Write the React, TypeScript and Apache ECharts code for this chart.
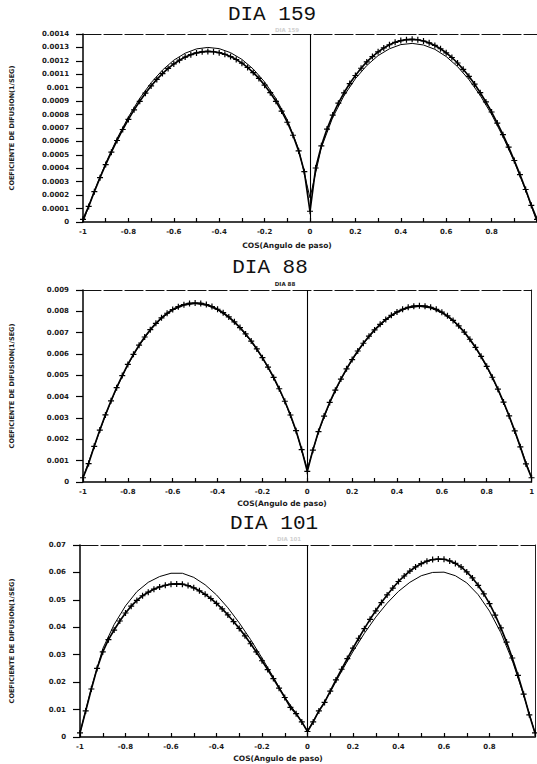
import React, { useEffect, useRef } from "react";
import * as echarts from "echarts";

// cos(pitch angle) sample points
const MU_FINE = [
  -1, -0.975, -0.95, -0.925, -0.9, -0.875, -0.85, -0.825, -0.8, -0.775,
  -0.75, -0.725, -0.7, -0.675, -0.65, -0.625, -0.6, -0.575, -0.55, -0.525,
  -0.5, -0.475, -0.45, -0.425, -0.4, -0.375, -0.35, -0.325, -0.3, -0.275,
  -0.25, -0.225, -0.2, -0.175, -0.15, -0.125, -0.1, -0.075, -0.05, -0.025,
  0,
  0.025, 0.05, 0.075, 0.1, 0.125, 0.15, 0.175, 0.2, 0.225, 0.25,
  0.275, 0.3, 0.325, 0.35, 0.375, 0.4, 0.425, 0.45, 0.475, 0.5,
  0.525, 0.55, 0.575, 0.6, 0.625, 0.65, 0.675, 0.7, 0.725, 0.75,
  0.775, 0.8, 0.825, 0.85, 0.875, 0.9, 0.925, 0.95, 0.975, 1,
];
const MU_COARSE = [
  -1, -0.95, -0.9, -0.85, -0.8, -0.75, -0.7, -0.65, -0.6, -0.55,
  -0.5, -0.45, -0.4, -0.35, -0.3, -0.25, -0.2, -0.15, -0.1, -0.05,
  0,
  0.05, 0.1, 0.15, 0.2, 0.25, 0.3, 0.35, 0.4, 0.45, 0.5,
  0.55, 0.6, 0.65, 0.7, 0.75, 0.8, 0.85, 0.9, 0.95, 1,
];

// DIA 159
const D159_MARK = [
  0.00002, 0.000116, 0.000226, 0.00033, 0.000428, 0.00052, 0.000607, 0.000689, 0.000764, 0.000835,
  0.000899, 0.000959, 0.001013, 0.001062, 0.001105, 0.001144, 0.001177, 0.001205, 0.001228, 0.001246,
  0.001259, 0.001267, 0.00127, 0.001268, 0.001261, 0.001249, 0.001232, 0.00121, 0.001183, 0.001151,
  0.001113, 0.001069, 0.001019, 0.000963, 0.000899, 0.000826, 0.000743, 0.000646, 0.000529, 0.000375,
  0.00008,
  0.000402, 0.000567, 0.000692, 0.000796, 0.000885, 0.000962, 0.001031, 0.001091, 0.001145, 0.001192,
  0.001232, 0.001267, 0.001296, 0.00132, 0.001338, 0.001351, 0.001358, 0.00136, 0.001357, 0.001348,
  0.001334, 0.001315, 0.00129, 0.00126, 0.001225, 0.001184, 0.001137, 0.001085, 0.001027, 0.000963,
  0.000894, 0.000819, 0.000737, 0.00065, 0.000557, 0.000458, 0.000353, 0.000242, 0.000124, 0.00002,
];
const D159_LINE = [
  0, 0.000231, 0.000438, 0.000622, 0.000782, 0.000921, 0.001037, 0.001131, 0.001205, 0.001257,
  0.001289, 0.0013, 0.001291, 0.001261, 0.001211, 0.001139, 0.001043, 0.00092, 0.000761, 0.000542,
  0.00018,
  0.000554, 0.000778, 0.000941, 0.001067, 0.001165, 0.001239, 0.00129, 0.001321, 0.00133, 0.001318,
  0.001286, 0.001232, 0.001157, 0.001061, 0.000942, 0.000801, 0.000636, 0.000448, 0.000236, 0,
];

// DIA 88
const D88_MARK = [
  0.0002, 0.000862, 0.001673, 0.002434, 0.003145, 0.003807, 0.004422, 0.004989, 0.00551, 0.005984,
  0.006413, 0.006798, 0.00714, 0.007439, 0.007695, 0.00791, 0.008085, 0.00822, 0.008314, 0.008372,
  0.00839, 0.008372, 0.008316, 0.008226, 0.008098, 0.007935, 0.007738, 0.007507, 0.007241, 0.006942,
  0.006607, 0.006236, 0.00583, 0.005386, 0.004901, 0.00437, 0.003786, 0.00314, 0.002404, 0.001518,
  0.0005,
  0.001494, 0.002366, 0.003091, 0.003728, 0.004303, 0.004825, 0.005303, 0.00574, 0.00614, 0.006505,
  0.006834, 0.007129, 0.007391, 0.007618, 0.007812, 0.007973, 0.008098, 0.008187, 0.008242, 0.00826,
  0.008242, 0.008186, 0.008092, 0.00796, 0.007788, 0.007576, 0.007323, 0.007029, 0.006692, 0.006314,
  0.005891, 0.005424, 0.004911, 0.004353, 0.003748, 0.003097, 0.002396, 0.001647, 0.000849, 0.0002,
];
const D88_LINE = [
  0.0002, 0.001667, 0.003134, 0.004406, 0.00549, 0.00639, 0.007114, 0.007668, 0.008057, 0.008285,
  0.00836, 0.008286, 0.008069, 0.00771, 0.007215, 0.006584, 0.005809, 0.004883, 0.003773, 0.002395,
  0.0006,
  0.002358, 0.003714, 0.004807, 0.005719, 0.006481, 0.007103, 0.007591, 0.007944, 0.008158, 0.00823,
  0.008156, 0.007931, 0.007549, 0.007004, 0.006291, 0.005405, 0.004337, 0.003085, 0.001641, 0.0002,
];

// DIA 101
const D101_MARK = [
  0.0015, 0.0095, 0.0175, 0.025, 0.031, 0.0355, 0.039, 0.0423, 0.0452, 0.0477,
  0.0498, 0.0515, 0.0528, 0.0539, 0.0547, 0.0553, 0.0557, 0.0558, 0.0557, 0.0552,
  0.0544, 0.0533, 0.052, 0.0505, 0.0487, 0.0467, 0.0445, 0.0421, 0.0396, 0.0369,
  0.034, 0.031, 0.0278, 0.0246, 0.0213, 0.0178, 0.0144, 0.0108, 0.0085, 0.0055,
  0.002,
  0.0055, 0.0095, 0.0126, 0.0167, 0.0208, 0.0247, 0.0286, 0.0324, 0.036, 0.0395,
  0.0429, 0.046, 0.049, 0.0518, 0.0543, 0.0567, 0.0587, 0.0605, 0.062, 0.0632,
  0.0641, 0.0647, 0.0649, 0.0648, 0.0642, 0.0633, 0.062, 0.0602, 0.058, 0.0553,
  0.0522, 0.0486, 0.0444, 0.0398, 0.0346, 0.0288, 0.0225, 0.0156, 0.0081, 0.0015,
];
const D101_LINE = [
  0.0015, 0.0179, 0.0322, 0.041, 0.0478, 0.053, 0.0564, 0.0585, 0.0597, 0.0597,
  0.0582, 0.0555, 0.0518, 0.0471, 0.0416, 0.0355, 0.0288, 0.0218, 0.0146, 0.0086,
  0.0022,
  0.0094, 0.0164, 0.024, 0.0312, 0.0378, 0.0437, 0.0488, 0.0531, 0.0564, 0.0588,
  0.06, 0.0601, 0.0588, 0.0562, 0.0519, 0.0459, 0.038, 0.0279, 0.0153, 0.0015,
];

const TITLES = ["DIA 159", "DIA 88", "DIA 101"];
const Y_MAX = [0.0014, 0.009, 0.07];
const Y_STEP = [0.0001, 0.001, 0.01];
const MARK_DATA = [D159_MARK, D88_MARK, D101_MARK];
const LINE_DATA = [D159_LINE, D88_LINE, D101_LINE];
const X_NAME = "COS(Angulo de paso)";
const Y_NAME = "COEFICIENTE DE DIFUSION(1/SEG)";

// layout (pixels)
const LAYOUT = [
  { left: 78, top: 34, width: 460, height: 188, titleX: 272, titleY: 14, subY: 29.5, subColor: "#d0d0d0", nameX: 287, nameY: 245, showMax: false },
  { left: 78, top: 290, width: 458, height: 192, titleX: 270, titleY: 267, subY: 283.5, subColor: "#222", nameX: 282, nameY: 503, showMax: true },
  { left: 75, top: 545, width: 460, height: 192, titleX: 274, titleY: 523, subY: 538.5, subColor: "#d0d0d0", nameX: 278, nameY: 758, showMax: false },
];

const PLUS = "path://M4,0H6V4H10V6H6V10H4V6H0V4H4Z";
const LABEL_FONT = { fontSize: 7, fontWeight: "bold" as const, fontFamily: "DejaVu Sans", color: "#1a1a1a" };

export default function App() {
  const ref = useRef<HTMLDivElement>(null);
  useEffect(() => {
    if (!ref.current) return;
    const chart = echarts.init(ref.current, undefined, { renderer: "svg" });
    const grid: any[] = [];
    const xAxis: any[] = [];
    const yAxis: any[] = [];
    const series: any[] = [];
    const graphic: any[] = [];

    LAYOUT.forEach((L, i) => {
      grid.push({ left: L.left, top: L.top, width: L.width, height: L.height, containLabel: false });
      xAxis.push({
        type: "value", gridIndex: i, min: -1, max: 1, interval: 0.2, position: "bottom",
        axisLine: { show: true, onZero: false, lineStyle: { color: "#000", width: 1.5 } },
        axisTick: { show: true, inside: true, length: 4, lineStyle: { color: "#000", width: 1.2 } },
        minorTick: { show: true, splitNumber: 2, length: 4, lineStyle: { color: "#000", width: 1.2 } },
        splitLine: { show: false },
        axisLabel: {
          ...LABEL_FONT, margin: 6, showMaxLabel: L.showMax,
          formatter: (v: number) => (Math.abs(v) < 1e-9 ? "0" : String(Math.round(v * 10) / 10)),
        },
      });
      xAxis.push({
        type: "value", gridIndex: i, min: -1, max: 1, position: "top",
        axisLine: { show: true, onZero: false, lineStyle: { color: "#111", width: 1.2, type: [18, 3] } },
        axisTick: { show: false }, axisLabel: { show: false }, splitLine: { show: false },
      });
      yAxis.push({
        type: "value", gridIndex: i, min: 0, max: Y_MAX[i], interval: Y_STEP[i], position: "left",
        name: Y_NAME, nameLocation: "middle", nameGap: L.left - 10, nameRotate: 90,
        nameTextStyle: { fontSize: 6.5, fontWeight: "bold", fontFamily: "DejaVu Sans", color: "#1a1a1a" },
        axisLine: { show: true, onZero: false, lineStyle: { color: "#000", width: 1.5 } },
        axisTick: { show: true, inside: false, length: 7, lineStyle: { color: "#000", width: 1.2 } },
        splitLine: { show: false },
        axisLabel: {
          ...LABEL_FONT, margin: 14,
          formatter: (v: number) => (v === 0 ? "0" : String(parseFloat(v.toFixed(6)))),
        },
      });
      yAxis.push({
        type: "value", gridIndex: i, min: 0, max: Y_MAX[i], position: "right",
        axisLine: { show: true, onZero: false, lineStyle: { color: "#222", width: 1 } },
        axisTick: { show: false }, axisLabel: { show: false }, splitLine: { show: false },
      });
      series.push({
        type: "line", xAxisIndex: 2 * i, yAxisIndex: 2 * i,
        data: MU_COARSE.map((m, k) => [m, LINE_DATA[i][k]]),
        showSymbol: false, lineStyle: { color: "#000", width: 1 }, z: 3,
      });
      series.push({
        type: "line", xAxisIndex: 2 * i, yAxisIndex: 2 * i,
        data: MU_FINE.map((m, k) => [m, MARK_DATA[i][k]]),
        symbol: PLUS, symbolSize: 6, showSymbol: true,
        itemStyle: { color: "#000" },
        lineStyle: { color: "#000", width: 1.7 }, z: 4,
        markLine: {
          silent: true, symbol: "none", label: { show: false },
          lineStyle: { color: "#000", type: "solid", width: 1.1 },
          data: [{ xAxis: 0 }],
        },
      });
      graphic.push({
        type: "text", x: L.titleX, y: L.titleY,
        style: { text: TITLES[i], fontSize: 21, fontFamily: "Liberation Mono", fill: "#111", align: "center", verticalAlign: "middle" },
      });
      graphic.push({
        type: "text", x: L.titleX + 15, y: L.subY,
        style: { text: TITLES[i], fontSize: 5.5, fontWeight: "bold", fontFamily: "DejaVu Sans", fill: L.subColor, align: "center", verticalAlign: "middle" },
      });
      graphic.push({
        type: "text", x: L.nameX, y: L.nameY,
        style: { text: X_NAME, fontSize: 7.5, fontWeight: "bold", fontFamily: "DejaVu Sans", fill: "#1a1a1a", align: "center", verticalAlign: "middle" },
      });
    });

    chart.setOption({
      animation: false,
      backgroundColor: "#fff",
      grid, xAxis, yAxis, series, graphic,
    });
    return () => chart.dispose();
  }, []);
  return <div ref={ref} style={{ position: "absolute", left: 0, top: 0, width: 537, height: 764 }} />;
}
